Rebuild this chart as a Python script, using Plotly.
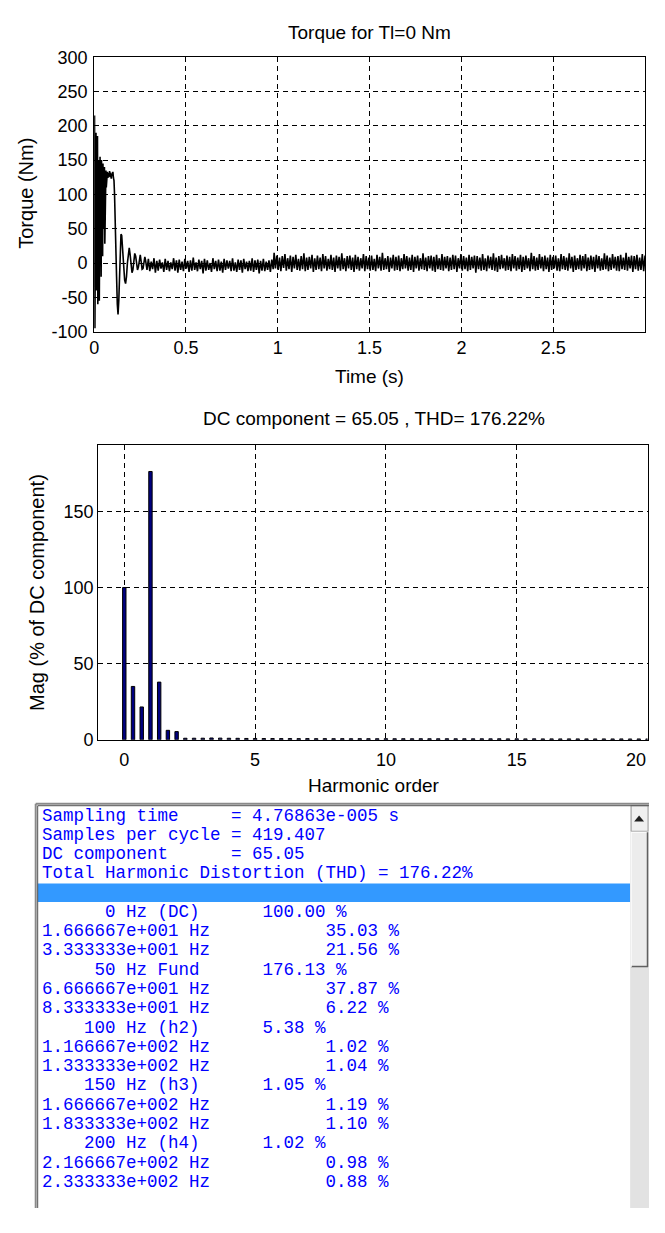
import numpy as np
import plotly.graph_objects as go

# figure kept inside the visible viewport, at its top-left corner
W, H = 649, 1217

# ---------------- Torque signal ----------------
t_transient = [0.000, 0.002, 0.004, 0.006, 0.008, 0.010, 0.012, 0.014, 0.016, 0.018,
               0.020, 0.022, 0.024, 0.026, 0.028, 0.030, 0.032, 0.034, 0.036, 0.038,
               0.040, 0.042, 0.044, 0.046, 0.048, 0.050, 0.052, 0.054, 0.056, 0.058,
               0.060, 0.062, 0.064, 0.066,
               0.069, 0.072, 0.075, 0.078, 0.081, 0.084, 0.087, 0.090, 0.093, 0.096,
               0.099, 0.102, 0.105, 0.108, 0.111, 0.114, 0.118, 0.122, 0.126, 0.130,
               0.134, 0.138, 0.142, 0.146, 0.150, 0.155, 0.160, 0.166, 0.171, 0.176,
               0.181, 0.186, 0.191, 0.196, 0.201, 0.206, 0.211, 0.216, 0.221, 0.226,
               0.231, 0.236, 0.241, 0.246, 0.251, 0.256, 0.261, 0.266, 0.271, 0.276]
torque_transient = [0, 215, -95, 140, 30, 190, -40, 160, 60, 185,
                    -60, 120, 20, 150, -55, 100, 155, 30, 140, -20,
                    150, 70, 130, 10, 145, 50, 135, 90, 140, 28,
                    120, 100, 135, 110,
                    128, 133, 124, 131, 126, 134, 125, 132, 123, 130,
                    127, 133, 124, 120, 100, 75, 35, -20, -60, -75,
                    -55, -10, 25, 42, 40, 20, -5, -25, -30, -20,
                    0, 18, 22, 12, -5, -14, -10, 4, 14, 10,
                    -2, -10, -6, 8, 12, 2, -9, -8, 6, 9]

# ripple samples 0.28 s .. 0.975 s
ripple_a_span = (0.28, 0.975)
ripple_a = [int(v) for v in (
    "4 -10 6 -12 2 -9 7 -14 3 -11 5 -8 1 -13 6 -10 3 -12 1 -9 7 -11 4 -14 5 -10 2 -12 "
    "6 -8 3 -13 4 -11 8 -10 1 -12 5 -9 3 -15 6 -11 4 -10 0 -13 7 -9 3 -12 5 -11 2 -14 "
    "6 -10 4 -8 3 -12 7 -11 1 -13 5 -10 4 -14 6 -9 2 -12 3 -11 7 -13 4 -10 5 -15 3 -11 "
    "6 -12 2 -10 4 -13 5 -9"
).split()]

# ripple samples 0.98 s .. 3.0 s
ripple_b_span = (0.98, 3.0)
ripple_b = [int(v) for v in (
    "15 -8 11 -10 8 -12 10 -7 13 -11 7 -9 11 -13 9 -8 12 -10 6 -11 10 -9 14 -12 8 "
    "-10 9 -8 12 -13 7 -10 11 -9 8 -12 13 -8 10 -11 6 -9 12 -10 8 -13 11 -8 9 -11 "
    "14 -9 7 -12 10 -8 11 -10 8 -13 12 -9 9 -11 7 -8 13 -12 10 -9 8 -11 11 -10 6 "
    "-12 12 -8 9 -11 15 -10 7 -9 10 -13 8 -8 12 -11 9 -10 11 -12 7 -9 13 -8 10 -11 "
    "8 -10 12 -13 9 -8 11 -11 7 -9 14 -10 8 -12 10 -8 11 -11 9 -13 12 -9 7 -10 13 "
    "-11 9 -8 10 -12 8 -10 12 -9 11 -13 7 -8 13 -11 10 -9 8 -12 12 -10 9 -8 11 -14 "
    "10 -9 8 -11 13 -10 7 -12 11 -8 9 -10 14 -11 8 -13 10 -9 12 -8 7 -11 11 -10 9 "
    "-12 13 -8 10 -11 8 -9 12 -13 9 -10 11 -8 7 -12 15 -9 10 -11 8 -10 13 -8 9 -12 "
    "11 -9 8 -13 12 -10 9 -8 11 -11 7 -12 13 -9 10 -10 8 -11 14 -8 9 -13 11 -10 7 "
    "-9 12 -11 10 -8 13 -12 8 -10 11 -9 9 -13 12 -8 10 -11 7 -10 14 -9 11 -12 8 -10 "
    "13 -8 9 -11 10 -12 12 -9 8 -10 15 -11 9 -8 11 -13 10 -9 12 -11 8 -10 13 -12 11"
).split()]

time_ticks = [0, 0.5, 1, 1.5, 2, 2.5]
torque_ticks = [-100, -50, 0, 50, 100, 150, 200, 250, 300]

# ---------------- Harmonic spectrum ----------------
spectrum_labels = ["      0 Hz (DC)", "1.666667e+001 Hz", "3.333333e+001 Hz", "     50 Hz Fund",
                   "6.666667e+001 Hz", "8.333333e+001 Hz", "    100 Hz (h2)", "1.166667e+002 Hz",
                   "1.333333e+002 Hz", "    150 Hz (h3)", "1.666667e+002 Hz", "1.833333e+002 Hz",
                   "    200 Hz (h4)", "2.166667e+002 Hz", "2.333333e+002 Hz", "2.500000e+002 Hz",
                   "2.666667e+002 Hz"]
spectrum_pct = [100.00, 35.03, 21.56, 176.13, 37.87, 6.22, 5.38, 1.02, 1.04, 1.05,
                1.19, 1.10, 1.02, 0.98, 0.88, 0.87, 0.85]
# remaining bins (estimated from the bar chart, up to order 20)
spectrum_tail_pct = [0.83, 0.79, 0.81, 0.76, 0.78, 0.74, 0.77, 0.72, 0.75, 0.70, 0.73,
                     0.71, 0.69, 0.72, 0.68, 0.70, 0.66, 0.69, 0.67, 0.65, 0.68, 0.64,
                     0.66, 0.63, 0.65, 0.62, 0.64, 0.61, 0.63, 0.60, 0.62, 0.59, 0.61,
                     0.58, 0.60, 0.57, 0.59, 0.56, 0.58, 0.55, 0.57, 0.54, 0.56, 0.55]
fundamental_hz = 50.0
bin_hz = 50.0 / 3
order_ticks = [0, 5, 10, 15, 20]
mag_ticks = [0, 50, 100, 150]

header_lines = ["Sampling time     = 4.76863e-005 s",
                "Samples per cycle = 419.407",
                "DC component      = 65.05",
                "Total Harmonic Distortion (THD) = 176.22%"]

# ---------------- build ----------------
n = min(len(t_transient), len(torque_transient))
t_a = np.linspace(ripple_a_span[0], ripple_a_span[1], len(ripple_a))
t_b = np.linspace(ripple_b_span[0], ripple_b_span[1], len(ripple_b))
t_all = list(t_transient[:n]) + list(t_a) + list(t_b)
T_all = list(torque_transient[:n]) + ripple_a + ripple_b

mags = spectrum_pct + spectrum_tail_pct
orders = [k * bin_hz / fundamental_hz for k in range(len(mags))]


def px(x):
    return x / W


def py(y):
    return 1 - y / H


FONT = "Liberation Sans, Arial, sans-serif"
axis_common = dict(showgrid=True, gridcolor="black", gridwidth=1, griddash="5px,4px",
                   showline=True, linecolor="black", linewidth=1, mirror=True,
                   zeroline=False, ticks="",
                   tickfont=dict(family=FONT, size=18, color="black"))

fig = go.Figure()
fig.add_trace(go.Scatter(x=t_all, y=T_all, mode="lines",
                         line=dict(color="black", width=1.6),
                         xaxis="x", yaxis="y", hoverinfo="skip"))
fig.add_trace(go.Bar(x=orders, y=mags, width=0.13,
                     marker=dict(color="#000080", line=dict(color="black", width=1)),
                     xaxis="x2", yaxis="y2", hoverinfo="skip"))

# last order label sits on the figure edge: draw it as an annotation so it stays visible
order_tick_labels = [str(v) if v != order_ticks[-1] else "" for v in order_ticks]

fig.update_layout(
    width=W, height=H, margin=dict(l=0, r=0, t=0, b=0),
    paper_bgcolor="white", plot_bgcolor="white", showlegend=False,
    xaxis=dict(domain=[px(90), px(646)], range=[0, 3], anchor="y",
               tickvals=time_ticks, ticktext=[f"{v:g}" for v in time_ticks],
               ticklabelstandoff=0, **axis_common),
    yaxis=dict(domain=[py(327), py(48)], range=[-100, 300], anchor="x",
               tickvals=torque_ticks, ticktext=[str(v) for v in torque_ticks],
               ticklabelstandoff=2, **axis_common),
    xaxis2=dict(domain=[px(94), px(648.5)], range=[-1, 20], anchor="y2",
                tickvals=order_ticks, ticktext=order_tick_labels,
                ticklabelstandoff=4, **axis_common),
    yaxis2=dict(domain=[py(742), py(442)], range=[0, 193.7], anchor="x2",
                tickvals=mag_ticks, ticktext=[str(v) for v in mag_ticks],
                ticklabelstandoff=0, **axis_common),
)

ann = []
def text(x, y, s, size=19, angle=0, family=FONT, color="black", xanchor="center"):
    ann.append(dict(x=px(x), y=py(y), xref="paper", yref="paper", text=s,
                    showarrow=False, textangle=angle, xanchor=xanchor, yanchor="middle",
                    font=dict(family=family, size=size, color=color)))

text(368, 23, "Torque for Tl=0 Nm")
text(368, 373, "Time (s)")
text(21, 186, "Torque (Nm)", size=20, angle=-90)
text(372, 415, "DC component = 65.05 , THD= 176.22%")
text(372, 788, "Harmonic order")
text(33, 592, "Mag (% of DC component)", size=20, angle=-90)
text(W, 763, str(order_ticks[-1]), size=18, xanchor="right")

# ---------------- listbox ----------------
rows = list(header_lines) + [""]
for lab, v in zip(spectrum_labels, spectrum_pct):
    col = 21 if not lab.startswith(("1.", "2.", "3.", "6.", "8.")) else 27
    rows.append(lab.ljust(col) + f"{v:.2f} %")

MONO = "Liberation Mono, Courier New, monospace"
for k, r in enumerate(rows):
    yk = 819 + 19.6 * k
    if r and yk < H - 6:
        text(35.5, yk, r.replace(" ", "\u00a0"), size=17.5,
             family=MONO, color="#0000FF", xanchor="left")

shapes = []
def rect(x0, y0, x1, y1, fill=None, line=None, lw=0):
    shapes.append(dict(type="rect", xref="paper", yref="paper",
                       x0=px(x0), x1=px(x1), y0=py(y1), y1=py(y0),
                       fillcolor=fill if fill else "rgba(0,0,0,0)",
                       line=dict(color=line if line else "rgba(0,0,0,0)", width=lw),
                       layer="below"))

def seg(x0, y0, x1, y1, color, lw=1):
    shapes.append(dict(type="line", xref="paper", yref="paper",
                       x0=px(x0), x1=px(x1), y0=py(y0), y1=py(y1),
                       line=dict(color=color, width=lw), layer="above"))

# highlight row
rect(33, 888, 631, 907, fill="#3399FF")
# scrollbar track
rect(631, 808, W + 1, H + 1, fill="#e2e2e2")
# up button
rect(632, 809, W, 835, fill="#f0f0f0", line="#a0a0a0", lw=1)
shapes.append(dict(type="path", xref="paper", yref="paper",
                   path=f"M {px(635)},{py(825)} L {px(645)},{py(825)} L {px(640)},{py(819)} Z",
                   fillcolor="#202020", line=dict(width=0)))
# thumb
rect(632, 836, W, 973, fill="#ececec")
seg(632, 836, W, 836, "#ffffff", 1)
seg(W - 0.5, 836, W - 0.5, 973, "#606060", 1.5)
seg(632, 972.5, W, 972.5, "#606060", 1.5)
seg(632, 836, 632, 973, "#ffffff", 1)
# frame of listbox
seg(31, 807, W + 1, 807, "#8a8a8a", 2)
seg(31, 807, 31, H + 1, "#8a8a8a", 2)
seg(33, 809, W + 1, 809, "#505050", 1)
seg(33, 809, 33, H + 1, "#505050", 1)

fig.update_layout(annotations=ann, shapes=shapes)
fig.write_html("out.html", config={"displayModeBar": False})
